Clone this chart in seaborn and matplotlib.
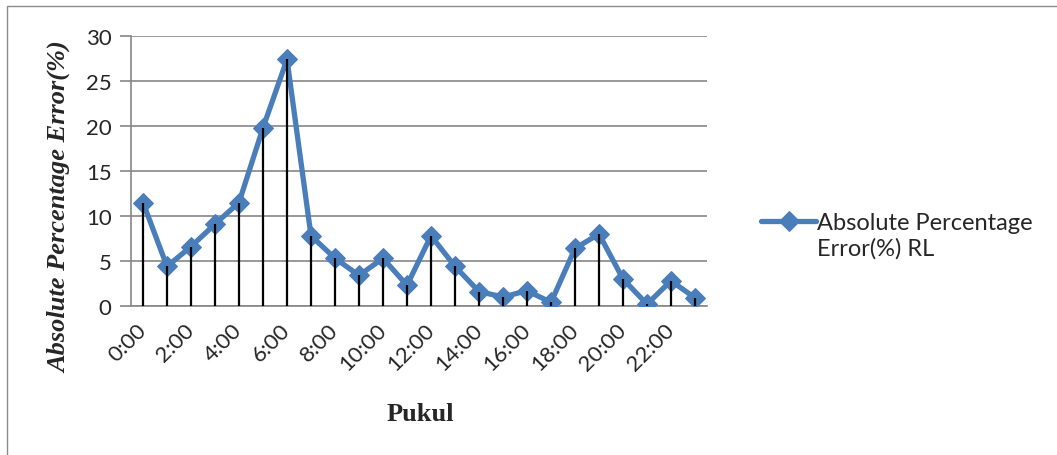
import matplotlib.pyplot as plt
import pandas as pd
import seaborn as sns
from matplotlib.offsetbox import HPacker
from matplotlib.patches import Rectangle

# Data
hours = ["0:00", "1:00", "2:00", "3:00", "4:00", "5:00", "6:00", "7:00",
         "8:00", "9:00", "10:00", "11:00", "12:00", "13:00", "14:00", "15:00",
         "16:00", "17:00", "18:00", "19:00", "20:00", "21:00", "22:00", "23:00"]
ape_rl = [11.5, 4.4, 6.6, 9.1, 11.5, 19.8, 27.4, 7.8,
          5.3, 3.4, 5.3, 2.3, 7.8, 4.4, 1.6, 1.0,
          1.7, 0.4, 6.4, 8.0, 3.0, 0.2, 2.8, 0.9]
y_ticks = [0, 5, 10, 15, 20, 25, 30]
series_label = "Absolute Percentage\nError(%) RL"

BLUE = "#4A7EBB"
GRID = "#868686"

df = pd.DataFrame({"pos": range(len(hours)), "hour": hours, "ape": ape_rl})

sns.set_theme(style="white")
plt.rcParams["font.family"] = ["Lato", "DejaVu Sans"]

fig = plt.figure(figsize=(10.57, 4.56), dpi=100)
ax = fig.add_axes([131 / 1057, 1 - 307 / 456, 576 / 1057, 270 / 456])

# outer chart border (Excel chart area)
fig.patches.append(Rectangle((7 / 1057, -0.1), 1.2, 1 - 7 / 456 + 0.1,
                             transform=fig.transFigure, fill=False,
                             edgecolor="#8c8c8c", lw=1.0))

sns.lineplot(data=df, x="pos", y="ape", ax=ax, color=BLUE, linewidth=3.8,
             marker="D", markersize=10.5, markeredgecolor=BLUE,
             label=series_label, zorder=3)
# drop lines
ax.vlines(df["pos"], 0, df["ape"], color="black", linewidth=1.6, zorder=4)

ax.set_xlim(-0.5, len(hours) - 0.5)
ax.set_ylim(0, 30)
ax.set_yticks(y_ticks)
ax.set_yticklabels([str(t) for t in y_ticks], fontsize=16)
ax.yaxis.grid(True, color=GRID, linewidth=1.2)
ax.set_axisbelow(True)

ax.set_xticks(df["pos"][::2])
ax.set_xticklabels(df["hour"][::2], rotation=45, ha="right", va="center",
                   rotation_mode="anchor", fontsize=16)
ax.tick_params(axis="x", length=0, pad=15)
ax.tick_params(axis="y", length=8, width=1.2, color=GRID, pad=6, left=True)

for side in ["top", "right"]:
    ax.spines[side].set_visible(False)
for side in ["left", "bottom"]:
    ax.spines[side].set_color(GRID)
    ax.spines[side].set_linewidth(1.2)

ax.set_xlabel("Pukul", family="Liberation Serif", fontweight="bold", fontsize=19)
ax.xaxis.set_label_coords((420 - 131) / 576, (307 - 415) / 270)
ax.xaxis.label.set_va("center")
ax.set_ylabel("Absolute Percentage Error(%)", family="Liberation Serif",
              fontweight="bold", style="italic", fontsize=19)
ax.yaxis.set_label_coords((60 - 131) / 576, (307 - 207) / 270)
ax.yaxis.label.set_va("center")

leg = ax.legend(loc="upper left", bbox_to_anchor=(752 / 1057, 1 - 204 / 456),
                bbox_transform=fig.transFigure, frameon=False, fontsize=17,
                handlelength=2.3, handletextpad=0.05, borderaxespad=0)
# put the legend marker level with the first line of the label, as Excel does
for box in leg.findobj(HPacker):
    box.align = "top"

fig.savefig("out.png", dpi=100)
